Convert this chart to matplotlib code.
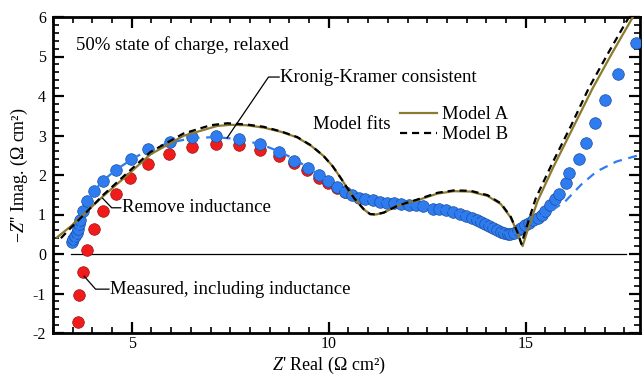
import matplotlib
matplotlib.use("Agg")
import matplotlib.pyplot as plt
from matplotlib.ticker import MultipleLocator

plt.rcParams['font.family'] = ['Liberation Serif', 'DejaVu Serif']
plt.rcParams['mathtext.fontset'] = 'custom'
plt.rcParams['mathtext.rm'] = 'Liberation Serif'
plt.rcParams['mathtext.it'] = 'Liberation Serif:italic'
plt.rcParams['axes.unicode_minus'] = False

# ---- data ----
# Measured, including inductance (red)
meas_x = [3.64, 3.67, 3.75, 3.87, 4.03, 4.26, 4.59, 4.96, 5.42, 5.95, 6.54, 7.14,
          7.73, 8.25, 8.73, 9.11, 9.46, 9.75, 9.98, 10.20, 10.41]
meas_y = [-1.72, -1.05, -0.45, 0.11, 0.63, 1.09, 1.53, 1.92, 2.27, 2.54, 2.72, 2.79,
          2.75, 2.63, 2.49, 2.30, 2.12, 1.93, 1.80, 1.67, 1.56]

# Remove inductance (blue)
rem_x = [3.47, 3.52, 3.57, 3.61, 3.64, 3.66, 3.68, 3.75, 3.87, 4.03, 4.27, 4.59, 4.97,
         5.42, 5.96, 6.54, 7.14, 7.73, 8.26, 8.74, 9.12, 9.47, 9.75, 9.98, 10.20, 10.41,
         10.59, 10.76, 10.93, 11.12, 11.31, 11.48, 11.65, 11.84, 12.03, 12.22, 12.40,
         12.65, 12.80, 12.98, 13.16, 13.33, 13.48, 13.63, 13.75, 13.86, 13.97, 14.07,
         14.17, 14.28, 14.37, 14.45, 14.54, 14.60, 14.70, 14.81, 14.89, 14.98, 15.09,
         15.19, 15.30, 15.40, 15.50, 15.62, 15.73, 15.85, 16.02, 16.10, 16.36, 16.54,
         16.77, 17.02, 17.34, 17.80]
rem_y = [0.30, 0.37, 0.45, 0.54, 0.64, 0.75, 0.87, 1.09, 1.33, 1.59, 1.85, 2.12, 2.40,
         2.65, 2.84, 2.96, 2.98, 2.92, 2.78, 2.57, 2.36, 2.17, 2.00, 1.84, 1.70, 1.58,
         1.49, 1.43, 1.39, 1.36, 1.32, 1.30, 1.28, 1.27, 1.25, 1.23, 1.21,
         1.13, 1.14, 1.12, 1.07, 1.02, 0.97, 0.92, 0.87, 0.82, 0.77, 0.72,
         0.67, 0.61, 0.56, 0.52, 0.50, 0.50, 0.54, 0.60, 0.67, 0.73, 0.79,
         0.85, 0.92, 1.00, 1.09, 1.25, 1.38, 1.53, 1.79, 2.04, 2.40, 2.80,
         3.31, 3.89, 4.56, 5.35]

# Kronig-Kramer consistent fit (blue dashed)
kk_x = [3.50, 3.58, 3.65, 3.75, 3.87, 4.03, 4.27, 4.60, 5.00, 5.40, 5.90, 6.50, 7.10,
        7.70, 8.30, 8.80, 9.20, 9.60, 10.00, 10.40, 10.80, 11.20, 11.60, 12.00, 12.40,
        12.80, 13.20, 13.60, 14.00, 14.30, 14.55, 14.75, 15.00, 15.30, 15.60, 16.00,
        16.40, 16.80, 17.30, 17.90]
kk_y = [0.22, 0.45, 0.70, 1.02, 1.30, 1.58, 1.86, 2.13, 2.40, 2.62, 2.80, 2.93, 2.96,
        2.91, 2.77, 2.57, 2.36, 2.10, 1.84, 1.60, 1.44, 1.35, 1.29, 1.25, 1.21,
        1.14, 1.06, 0.93, 0.76, 0.61, 0.51, 0.52, 0.72, 0.93, 1.06, 1.33,
        1.75, 2.09, 2.34, 2.51]

# Model A (olive solid)
modA_x = [3.10, 3.45, 3.77, 4.28, 4.96, 5.47, 6.31, 7.16, 7.50, 7.90, 8.35, 8.80, 9.20,
          9.55, 9.87, 10.10, 10.30, 10.50, 10.63, 10.89, 11.05, 11.20, 11.40, 11.74,
          12.25, 12.76, 13.18, 13.60, 14.03, 14.37, 14.62, 14.79, 14.92, 15.04, 15.30,
          15.70, 16.20, 16.70, 17.20, 17.72]
modA_y = [0.42, 0.70, 1.00, 1.47, 2.06, 2.52, 2.99, 3.24, 3.27, 3.26, 3.20, 3.09, 2.95,
          2.74, 2.48, 2.22, 1.93, 1.62, 1.43, 1.13, 1.01, 1.00, 1.05, 1.22,
          1.36, 1.53, 1.59, 1.58, 1.47, 1.26, 0.92, 0.54, 0.20, 0.58, 1.34,
          2.20, 3.20, 4.20, 5.10, 6.00]

# Model B (black dashed)
modB_x = [3.20, 3.45, 3.77, 4.28, 4.96, 5.47, 6.31, 7.00, 7.42, 7.90, 8.35, 8.80, 9.20,
          9.55, 9.87, 10.10, 10.30, 10.50, 10.63, 10.89, 11.05, 11.20, 11.40, 11.74,
          12.25, 12.76, 13.18, 13.60, 14.03, 14.37, 14.62, 14.79, 14.89, 15.00, 15.25,
          15.65, 16.15, 16.60, 17.10, 17.62]
modB_y = [0.40, 0.66, 0.98, 1.50, 2.12, 2.58, 3.05, 3.26, 3.31, 3.28, 3.22, 3.10, 2.96,
          2.75, 2.48, 2.22, 1.93, 1.62, 1.43, 1.13, 1.01, 1.00, 1.05, 1.22,
          1.38, 1.55, 1.61, 1.60, 1.49, 1.28, 0.94, 0.55, 0.25, 0.62, 1.40,
          2.25, 3.25, 4.20, 5.10, 6.00]

legend_labels = ["Model A", "Model B"]

# ---- figure ----
fig = plt.figure(figsize=(6.44, 3.75), dpi=100)
ax = fig.add_axes([53/644, 42/375, 587/644, 316/375])

OLIVE = '#8c7a2e'
BLUE = '#2e7cf0'
RED = '#f01c1c'

ax.plot([3.45, 17.55], [0, 0], color='black', lw=0.9, zorder=1)

ax.scatter(meas_x, meas_y, s=70, color=RED, edgecolors='#a01010', linewidths=0.5, zorder=3)
ax.scatter(rem_x, rem_y, s=70, color=BLUE, edgecolors='#1d4f9c', linewidths=0.5, zorder=4)
ax.plot(kk_x, kk_y, color=BLUE, lw=1.6, dashes=(4, 3), zorder=5)
lA, = ax.plot(modA_x, modA_y, color=OLIVE, lw=1.6, zorder=6, label=legend_labels[0])
lB, = ax.plot(modB_x, modB_y, color='black', lw=1.6, dashes=(3.2, 2.2), zorder=7,
              label=legend_labels[1])

ax.set_xlim(3.0, 17.9)
ax.set_ylim(-2, 6)
ax.xaxis.set_major_locator(MultipleLocator(5))
ax.xaxis.set_minor_locator(MultipleLocator(0.5))
ax.yaxis.set_major_locator(MultipleLocator(1))
ax.yaxis.set_minor_locator(MultipleLocator(0.2))
ax.tick_params(which='both', direction='in', top=True, right=True, labelsize=11.5)
ax.tick_params(axis='y', pad=5)
ax.tick_params(axis='x', pad=2)
ax.tick_params(which='major', length=8, width=1.6)
ax.tick_params(which='minor', length=4.5, width=1.2)
for sp in ax.spines.values():
    sp.set_linewidth(2)

ax.set_xlabel("$\\mathit{Z}$' Real (Ω cm²)", fontsize=13, labelpad=0)
ax.xaxis.set_label_coords((10 - 3.0) / 14.9, -0.068)
ax.set_ylabel("−$\\mathit{Z}$'' Imag. (Ω cm²)", fontsize=13, labelpad=2)

FS = 13.5
ax.text(3.58, 5.29, "50% state of charge, relaxed", fontsize=FS, va='center', ha='left')

ax.text(8.77, 4.48, "Kronig-Kramer consistent", fontsize=FS, va='center', ha='left')
ax.plot([8.74, 8.47, 7.42], [4.48, 4.48, 2.94], color='black', lw=0.9, zorder=8)

ax.text(4.75, 1.17, "Remove inductance", fontsize=FS, va='center', ha='left')
ax.plot([4.72, 4.49, 4.26], [1.17, 1.17, 1.41], color='black', lw=0.9, zorder=8)

ax.text(4.45, -0.89, "Measured, including inductance", fontsize=FS, va='center', ha='left')
ax.plot([4.42, 4.08, 3.79], [-0.89, -0.89, -0.56], color='black', lw=0.9, zorder=8)

ax.text(9.61, 3.27, "Model fits", fontsize=FS, va='center', ha='left')
ax.legend(handles=[lA, lB], loc='center left', bbox_to_anchor=(11.80, 3.27),
          bbox_transform=ax.transData, frameon=False, fontsize=FS,
          handlelength=2.0, handletextpad=0.25, labelspacing=0.15, borderpad=0,
          borderaxespad=0)

fig.savefig("out.png", dpi=100)
